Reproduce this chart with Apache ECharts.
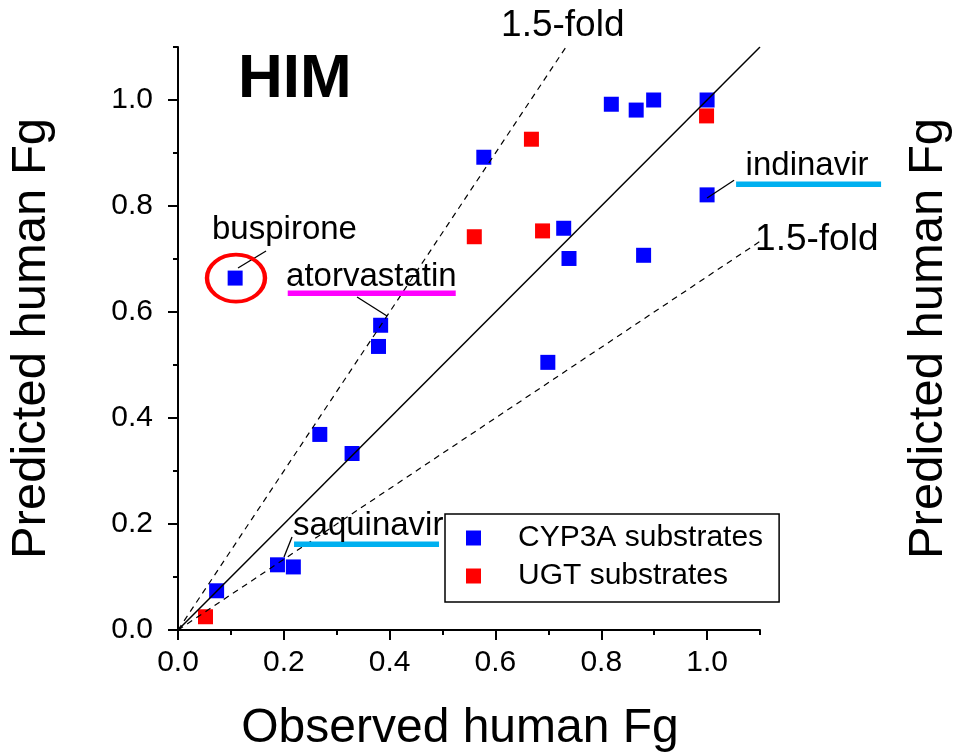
<!DOCTYPE html>
<html><head><meta charset="utf-8">
<script src="https://cdn.jsdelivr.net/npm/echarts@6/dist/echarts.min.js"></script>
<style>html,body{margin:0;padding:0;background:#fff}#c{width:954px;height:752px}</style>
</head><body><div id="c"></div>
<script>
// ---- data ----
const cyp3aObserved  = [0.073, 0.188, 0.218, 0.268, 0.329, 0.379, 0.383, 0.108, 0.578, 0.819, 0.866, 0.899, 1.0, 1.0, 0.729, 0.739, 0.880, 0.699];
const cyp3aPredicted = [0.074, 0.123, 0.119, 0.369, 0.333, 0.535, 0.575, 0.664, 0.892, 0.992, 0.981, 1.0, 1.0, 0.821, 0.758, 0.701, 0.707, 0.505];
const ugtObserved    = [0.052, 0.560, 0.689, 0.668, 0.999];
const ugtPredicted   = [0.025, 0.742, 0.753, 0.926, 0.970];
const tickValues = [0, 0.2, 0.4, 0.6, 0.8, 1.0];
const seriesNames = ['CYP3A substrates', 'UGT substrates'];
const unityLine = [[0, 0], [1.1, 1.1]];
const upperFoldLine = [[0, 0], [1.1 / 1.5, 1.1]];
const lowerFoldLine = [[0, 0], [1.1, 1.1 / 1.5]];
const drugNames = ['buspirone', 'atorvastatin', 'saquinavir', 'indinavir'];

// ---- annotation placement (data coordinates) ----
const FONT = 'Liberation Sans, Arial, sans-serif';
const annoText = [
  {text: drugNames[0], at: [0.0643, 0.7542], size: 33},
  {text: drugNames[1], at: [0.2042, 0.6662], size: 33},
  {text: drugNames[2], at: [0.2174, 0.1964], size: 33},
  {text: drugNames[3], at: [1.0728, 0.8757], size: 33},
  {text: '1.5-fold', at: [0.6106, 1.1406], size: 37},
  {text: '1.5-fold', at: [1.0907, 0.7360], size: 37},
  {text: 'HIM', at: [0.1134, 1.0374], size: 62, bold: true}
];
const connectors = [
  [[0.1664, 0.7151], [0.1134, 0.6830]],
  [[0.3384, 0.6283], [0.3951, 0.5925]],
  [[0.2155, 0.1755], [0.2004, 0.1377]],
  [[1.051, 0.8485], [1.0, 0.8151]]
];
// underlines: left end in data coords, length in px
const underlines = [
  {at: [0.2074, 0.6353], len: 168, color: '#FF00FF'},
  {at: [0.2193, 0.1617], len: 145, color: '#00B0F0'},
  {at: [1.0548, 0.841], len: 145, color: '#00B0F0'}
];
const ellipse = {at: [0.1096, 0.664], size: [58, 47]};

const zip = (a, b) => a.map((v, i) => [v, b[i]]);

const chart = echarts.init(document.getElementById('c'), null, {renderer: 'canvas'});

const series = [
  {name: seriesNames[0], type: 'scatter', data: zip(cyp3aObserved, cyp3aPredicted), symbol: 'rect', symbolSize: 15,
   itemStyle: {color: '#0000FF', opacity: 1}, z: 3},
  {name: seriesNames[1], type: 'scatter', data: zip(ugtObserved, ugtPredicted), symbol: 'rect', symbolSize: 15,
   itemStyle: {color: '#FF0000', opacity: 1}, z: 3},
  {type: 'line', data: unityLine, symbol: 'none', silent: true, lineStyle: {color: '#000', width: 1.5}, z: 4},
  {type: 'line', data: upperFoldLine, symbol: 'none', silent: true, lineStyle: {color: '#000', width: 1.2, type: [6, 5]}, z: 4},
  {type: 'line', data: lowerFoldLine, symbol: 'none', silent: true, lineStyle: {color: '#000', width: 1.2, type: [6, 5]}, z: 4}
];
connectors.forEach(c => series.push({type: 'line', data: c, symbol: 'none', silent: true, clip: false,
  lineStyle: {color: '#000', width: 1.3}, z: 5}));
underlines.forEach(u => series.push({type: 'scatter', data: [u.at], symbol: 'rect', symbolSize: [u.len, 5.5],
  symbolOffset: [u.len / 2, 0], silent: true, clip: false, itemStyle: {color: u.color, opacity: 1}, z: 5}));
series.push({type: 'scatter', data: [ellipse.at], symbol: 'circle', symbolSize: ellipse.size, silent: true, clip: false,
  itemStyle: {color: 'rgba(0,0,0,0)', borderColor: '#FF0000', borderWidth: 4, opacity: 1}, z: 5});
series.push({type: 'scatter', silent: true, clip: false, symbolSize: 0, z: 6,
  data: annoText.map(a => ({value: a.at, label: {
    show: true, formatter: a.text, position: [0, 0], align: 'left', verticalAlign: 'middle',
    fontSize: a.size, lineHeight: a.size, fontFamily: FONT, color: '#000', opacity: 1, fontWeight: a.bold ? 'bold' : 'normal'}})),
  itemStyle: {color: 'rgba(0,0,0,0)', opacity: 1}});

const axisLineStyle = {color: '#000', width: 2};
chart.setOption({
  animation: false,
  backgroundColor: '#fff',
  textStyle: {fontFamily: FONT},
  grid: {left: 178, top: 47, width: 582, height: 583, containLabel: false, outerBoundsMode: 'none'},
  legend: {
    data: seriesNames, orient: 'vertical', left: 445, top: 514,
    padding: [9, 16, 11, 21], itemGap: 8, itemWidth: 15, itemHeight: 15,
    backgroundColor: '#fff', borderColor: '#000', borderWidth: 1.5, borderRadius: 0,
    textStyle: {fontSize: 30, lineHeight: 30, color: '#000', fontFamily: FONT, padding: [0, 0, 0, 32]},
    selectedMode: false
  },
  xAxis: [
    {type: 'value', min: 0, max: 1.1, position: 'bottom',
     axisLine: {lineStyle: axisLineStyle},
     axisTick: {customValues: tickValues, length: 10, lineStyle: axisLineStyle},
     axisLabel: {customValues: tickValues, formatter: v => v.toFixed(1), margin: 18, fontSize: 30, lineHeight: 30, color: '#000', fontFamily: FONT},
     splitLine: {show: false},
     name: 'Observed human Fg', nameLocation: 'middle', nameGap: 75,
     nameTextStyle: {fontSize: 48, lineHeight: 48, color: '#000', fontFamily: FONT, padding: [0, 18, 0, 0]}},
    {type: 'value', min: 0, max: 1.1, interval: 0.1, position: 'bottom',
     axisLine: {show: false}, axisTick: {length: 5, lineStyle: axisLineStyle},
     axisLabel: {show: false}, splitLine: {show: false}}
  ],
  yAxis: [
    {type: 'value', min: 0, max: 1.1, position: 'left',
     axisLine: {show: true, lineStyle: axisLineStyle},
     axisTick: {show: true, customValues: tickValues, length: 10, lineStyle: axisLineStyle},
     axisLabel: {customValues: tickValues, formatter: v => v.toFixed(1), margin: 25, fontSize: 30, lineHeight: 30, color: '#000', fontFamily: FONT},
     splitLine: {show: false},
     name: 'Predicted human Fg', nameLocation: 'middle', nameGap: 122, nameRotate: 90,
     nameTextStyle: {fontSize: 49, lineHeight: 49, color: '#000', fontFamily: FONT}},
    {type: 'value', min: 0, max: 1.1, interval: 0.1, position: 'left',
     axisLine: {show: false}, axisTick: {show: true, length: 5, lineStyle: axisLineStyle},
     axisLabel: {show: false}, splitLine: {show: false}},
    {type: 'value', min: 0, max: 1.1, position: 'right',
     axisLine: {show: false}, axisTick: {show: false}, axisLabel: {show: false}, splitLine: {show: false},
     name: 'Predicted human Fg', nameLocation: 'middle', nameGap: 144, nameRotate: 90,
     nameTextStyle: {fontSize: 49, lineHeight: 49, color: '#000', fontFamily: FONT}}
  ],
  series: series
});
</script></body></html>
